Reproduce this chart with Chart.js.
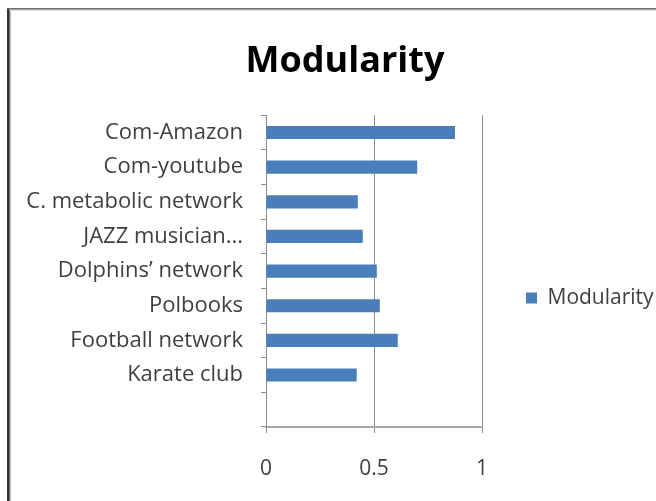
<!DOCTYPE html>
<html>
<head>
<meta charset="utf-8">
<script src="https://cdn.jsdelivr.net/npm/chart.js@4/dist/chart.umd.min.js"></script>
<style>
  html, body { margin: 0; padding: 0; background: #ffffff; }
  #wrap { width: 656px; height: 501px; position: relative; }
</style>
</head>
<body>
<div id="wrap"><canvas id="chart" width="656" height="501"></canvas></div>
<script>
// Network datasets, listed top to bottom; the last slot is left empty.
const categories = [
  'Com-Amazon',
  'Com-youtube',
  'C. metabolic network',
  'JAZZ musician...',
  'Dolphins\u2019 network',
  'Polbooks',
  'Football network',
  'Karate club',
  ''
];
const modularity = [0.875, 0.70, 0.425, 0.448, 0.513, 0.527, 0.61, 0.42, null];
const seriesName = 'Modularity';
const xTickValues = [0, 0.5, 1];
const xTickLabels = ['0', '0.5', '1'];

const FONT = '"Open Sans", "DejaVu Sans", sans-serif';
const TEXT_GREY = '#3f3f3f';
const GRID_GREY = '#8c8c8c';

// Plot-area edges in canvas pixels
const PLOT_LEFT = 266, PLOT_RIGHT = 482, PLOT_BOTTOM = 427;
const TITLE_LEFT = 34;

// Outer frame lines along the left and top edges
const framePlugin = {
  id: 'frame',
  afterDraw(chart) {
    const c = chart.ctx;
    c.save();
    const h = chart.height, w = chart.width;
    c.fillStyle = '#333333'; c.fillRect(7, 8, 2, h - 8);
    c.fillStyle = '#707070'; c.fillRect(9, 9, 1, h - 9);
    c.fillStyle = '#c0c0c0'; c.fillRect(10, 10, 1, h - 10);
    c.fillStyle = '#6e6e6e'; c.fillRect(7, 8, w - 7, 1);
    c.fillStyle = '#a8a8a8'; c.fillRect(9, 9, w - 9, 1);
    c.fillStyle = '#dedede'; c.fillRect(10, 10, w - 10, 1);
    c.restore();
  }
};

// Fixed legend column to the right of the plot; title centred over the framed area
const boxPlacement = {
  id: 'boxPlacement',
  afterInit(chart) {
    const leg = chart.legend;
    const fit = leg.fit.bind(leg);
    leg.fit = function () { fit(); this.width = chart.width - PLOT_RIGHT; };
  },
  afterLayout(chart) {
    const leg = chart.legend;
    leg.left = PLOT_RIGHT; leg.right = chart.width;
    leg.top = 198; leg.bottom = 398; leg.height = 200;
    const t = chart.titleBlock;
    t.left = TITLE_LEFT; t.width = t.right - t.left;
  }
};

new Chart(document.getElementById('chart'), {
  type: 'bar',
  data: {
    labels: categories,
    datasets: [{
      label: seriesName,
      data: modularity,
      backgroundColor: '#4a7ebb',
      borderWidth: 0,
      barPercentage: 0.38,
      categoryPercentage: 1
    }]
  },
  options: {
    indexAxis: 'y',
    responsive: false,
    animation: false,
    layout: { padding: { left: 0, right: 0, top: 0, bottom: 0 } },
    plugins: {
      title: {
        display: true,
        text: 'Modularity',
        color: '#000000',
        font: { family: FONT, size: 36, weight: 'bold', lineHeight: 1.2 },
        padding: { top: 40, bottom: 32 }
      },
      legend: {
        display: true,
        position: 'right',
        align: 'center',
        labels: {
          color: TEXT_GREY,
          font: { family: FONT, size: 21 },
          boxWidth: 11,
          boxHeight: 11,
          padding: 44
        }
      },
      tooltip: { enabled: false }
    },
    scales: {
      x: {
        type: 'linear',
        min: 0,
        max: 1,
        afterBuildTicks(scale) { scale.ticks = xTickValues.map(v => ({ value: v })); },
        afterFit(scale) { scale.height = scale.chart.height - PLOT_BOTTOM; },
        ticks: {
          color: TEXT_GREY,
          font: { family: FONT, size: 21 },
          padding: 23,
          callback: (v) => xTickLabels[xTickValues.indexOf(v)]
        },
        grid: { color: GRID_GREY, lineWidth: 1, tickLength: 6, drawTicks: true },
        border: { display: true, color: '#a8a8a8', width: 2 }
      },
      y: {
        type: 'category',
        offset: true,
        afterFit(scale) { scale.width = PLOT_LEFT; },
        ticks: {
          color: TEXT_GREY,
          font: { family: FONT, size: 22 },
          padding: 18,
          autoSkip: false
        },
        grid: { display: true, drawOnChartArea: false, drawTicks: true, tickLength: 5, offset: true, color: GRID_GREY },
        border: { display: true, color: GRID_GREY, width: 1 }
      }
    }
  },
  plugins: [framePlugin, boxPlacement]
});
</script>
</body>
</html>
